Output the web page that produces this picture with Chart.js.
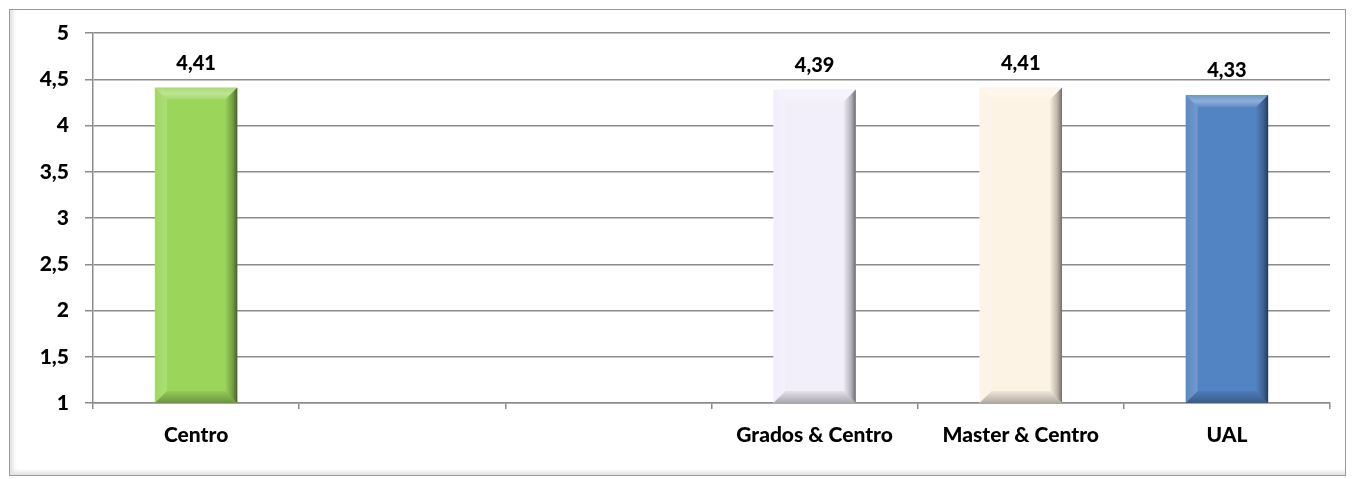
<!DOCTYPE html>
<html>
<head>
<meta charset="utf-8">
<script src="https://cdn.jsdelivr.net/npm/chart.js@4/dist/chart.umd.min.js"></script>
<style>
  html, body { margin:0; padding:0; background:#fff; }
  #frame {
    position:absolute; left:9px; top:9px; width:1337px; height:467px;
    border:1px solid #9a9a9a; box-sizing:border-box;
    box-shadow: inset 3px -3px 4px rgba(0,0,0,0.12);
  }
  #wrap { position:absolute; left:0; top:0; width:1352px; height:479px; }
</style>
</head>
<body>
<div id="frame"></div>
<div id="wrap"><canvas id="chart" width="1352" height="479"></canvas></div>
<script>
// data
const categories = ["Centro", "", "", "Grados & Centro", "Master & Centro", "UAL"];
const values = [4.41, null, null, 4.39, 4.41, 4.33];
const barColors = ["#9bd65b", "#9bd65b", "#9bd65b", "#f2eefa", "#fdf3e4", "#5283c2"];
const yTicks = [1, 1.5, 2, 2.5, 3, 3.5, 4, 4.5, 5];

const FONT = "Lato, 'Open Sans', sans-serif";
const WEIGHT = '900';

// bevel look of the bars, drawn over each bar element
const bevel = {
  id: 'bevel',
  afterDatasetsDraw(chart) {
    const ctx = chart.ctx;
    chart.getDatasetMeta(0).data.forEach((bar, i) => {
      if (values[i] == null) return;
      const { x, y, base, width } = bar.getProps(['x', 'y', 'base', 'width'], true);
      const l = x - width / 2, r = x + width / 2, t = y;
      const b = Math.min(base, chart.chartArea.bottom);
      const s = 12;
      ctx.save();
      // top (light)
      ctx.beginPath();
      ctx.moveTo(l, t); ctx.lineTo(r, t); ctx.lineTo(r - s, t + s); ctx.lineTo(l + s, t + s); ctx.closePath();
      let g = ctx.createLinearGradient(0, t, 0, t + s);
      g.addColorStop(0, 'rgba(255,255,255,0.15)');
      g.addColorStop(0.5, 'rgba(255,255,255,0.35)');
      g.addColorStop(1, 'rgba(255,255,255,0.10)');
      ctx.fillStyle = g; ctx.fill();
      // left (slightly light)
      ctx.beginPath();
      ctx.moveTo(l, t); ctx.lineTo(l + s, t + s); ctx.lineTo(l + s, b - s); ctx.lineTo(l, b); ctx.closePath();
      g = ctx.createLinearGradient(l, 0, l + s, 0);
      g.addColorStop(0, 'rgba(255,255,255,0.05)');
      g.addColorStop(1, 'rgba(255,255,255,0.18)');
      ctx.fillStyle = g; ctx.fill();
      // right (dark)
      ctx.beginPath();
      ctx.moveTo(r, t); ctx.lineTo(r, b); ctx.lineTo(r - s, b - s); ctx.lineTo(r - s, t + s); ctx.closePath();
      g = ctx.createLinearGradient(r - s, 0, r, 0);
      g.addColorStop(0, 'rgba(0,0,0,0.02)');
      g.addColorStop(0.6, 'rgba(0,0,0,0.25)');
      g.addColorStop(1, 'rgba(0,0,0,0.55)');
      ctx.fillStyle = g; ctx.fill();
      // bottom (dark)
      ctx.beginPath();
      ctx.moveTo(l, b); ctx.lineTo(r, b); ctx.lineTo(r - s, b - s); ctx.lineTo(l + s, b - s); ctx.closePath();
      g = ctx.createLinearGradient(0, b - s, 0, b);
      g.addColorStop(0, 'rgba(0,0,0,0.05)');
      g.addColorStop(1, 'rgba(0,0,0,0.30)');
      ctx.fillStyle = g; ctx.fill();
      // value label
      ctx.fillStyle = '#000';
      ctx.font = WEIGHT + ' 20px ' + FONT;
      ctx.textAlign = 'center';
      ctx.textBaseline = 'bottom';
      ctx.fillText(values[i].toFixed(2).replace('.', ','), x, t - 14);
      ctx.restore();
    });
  }
};

new Chart(document.getElementById('chart'), {
  type: 'bar',
  data: {
    labels: categories,
    datasets: [{
      data: values,
      backgroundColor: barColors,
      borderWidth: 0,
      barPercentage: 0.8,
      categoryPercentage: 0.5
    }]
  },
  options: {
    responsive: false,
    animation: false,
    layout: { padding: { left: 0, right: 22, top: 33, bottom: 0 } },
    plugins: { legend: { display: false }, tooltip: { enabled: false } },
    scales: {
      x: {
        grid: { drawOnChartArea: false, color: '#8c8c8c', lineWidth: 1.5, tickLength: 6 },
        border: { color: '#8c8c8c', width: 1.5 },
        ticks: { color: '#000', font: { family: FONT, size: 21, weight: WEIGHT }, padding: 14, maxRotation: 0, autoSkip: false },
        afterFit(axis) { axis.height = 76; }
      },
      y: {
        min: 1, max: 5,
        afterBuildTicks(axis) { axis.ticks = yTicks.map(v => ({ value: v })); },
        grid: { color: '#8c8c8c', lineWidth: 1.5, tickLength: 8 },
        border: { color: '#8c8c8c', width: 1.5 },
        ticks: {
          color: '#000', font: { family: FONT, size: 21, weight: WEIGHT }, padding: 16,
          callback: v => String(v).replace('.', ',')
        },
        afterFit(axis) { axis.width = 93; }
      }
    }
  },
  plugins: [bevel]
});
</script>
</body>
</html>
